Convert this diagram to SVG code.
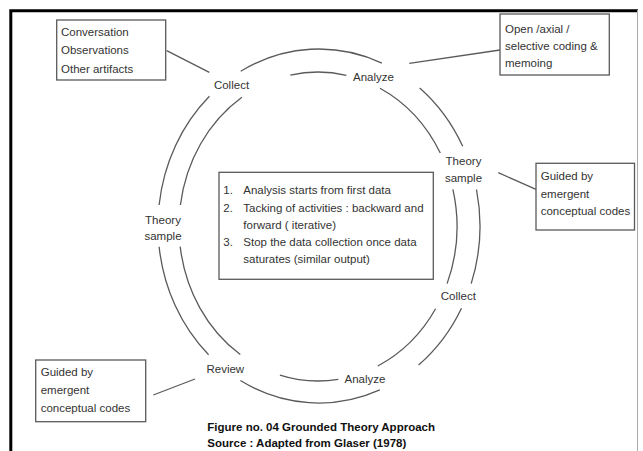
<svg xmlns="http://www.w3.org/2000/svg" width="643" height="451" viewBox="0 0 643 451">
<style>
.bg{fill:#fff}
.arc{fill:none;stroke:#5a5a5a;stroke-width:1.3}
.ln{fill:none;stroke:#5a5a5a;stroke-width:1.3}
.box{fill:#fff;stroke:#5a5a5a;stroke-width:1.3}
text{font-family:"Liberation Sans",Arial,sans-serif;font-size:11.5px;fill:#333}
.lbl{text-anchor:middle}
.cap{font-weight:bold;fill:#111}
</style>
<rect class="bg" x="0" y="0" width="643" height="451"/>
<path d="M10.8 451 V10.8 H638" fill="none" stroke="#000" stroke-width="3"/>
<path d="M637.5 10 V451" fill="none" stroke="#aaa" stroke-width="1"/>
<g id="connectors">
<path class="arc" d="M240.7 71.3 A161 177 0 0 1 381.9 63.1"/>
<path class="arc" d="M419.7 87.9 A161 177 0 0 1 462.7 146.2"/>
<path class="arc" d="M476.5 189.5 A161 177 0 0 1 471.2 283.6"/>
<path class="arc" d="M461.5 308.3 A161 177 0 0 1 418.6 365.1"/>
<path class="arc" d="M379.8 389.9 A161 177 0 0 1 240.4 380.5"/>
<path class="arc" d="M208.6 354.8 A161 177 0 0 1 159.1 246.7"/>
<path class="arc" d="M159.1 205.0 A161 177 0 0 1 209.4 96.3"/>
<path class="arc" d="M290.3 75.1 A139 154.5 0 0 1 346.4 75.3"/>
<path class="arc" d="M380.0 88.2 A139 154.5 0 0 1 440.3 153.0"/>
<path class="arc" d="M452.9 189.4 A139 154.5 0 0 1 447.1 283.6"/>
<path class="arc" d="M435.6 308.8 A139 154.5 0 0 1 377.8 366.0"/>
<path class="arc" d="M338.3 379.3 A139 154.5 0 0 1 279.9 375.1"/>
<path class="arc" d="M240.3 354.6 A139 154.5 0 0 1 180.2 246.7"/>
<path class="arc" d="M180.4 205.0 A139 154.5 0 0 1 241.9 97.2"/>
<path class="ln" d="M166.7 50.7 L209.3 72.3"/>
<path class="ln" d="M409.3 63.3 L500 50"/>
<path class="ln" d="M498.3 172.7 L536 189.3"/>
<path class="ln" d="M195 379 L153.3 395"/>
</g>
<g id="collect-top"><text class="lbl" x="231.5" y="89">Collect</text></g>
<g id="analyze-top"><text class="lbl" x="373.5" y="80.7">Analyze</text></g>
<g id="theory-right"><text class="lbl" x="463.5" y="165">Theory</text><text class="lbl" x="463.5" y="181.7">sample</text></g>
<g id="collect-right"><text class="lbl" x="458.3" y="300">Collect</text></g>
<g id="analyze-bottom"><text class="lbl" x="365" y="383.3">Analyze</text></g>
<g id="review"><text class="lbl" x="225.3" y="373.3">Review</text></g>
<g id="theory-left"><text class="lbl" x="163" y="224">Theory</text><text class="lbl" x="163" y="240.3">sample</text></g>
<g id="box-sources">
<rect class="box" x="56.7" y="20" width="109" height="60"/>
<text x="61" y="36">Conversation</text>
<text x="61" y="54.3">Observations</text>
<text x="61" y="72.7">Other artifacts</text>
</g>
<g id="box-coding">
<rect class="box" x="500" y="14" width="109.3" height="61"/>
<text x="505" y="33.3">Open /axial /</text>
<text x="505" y="50">selective coding &amp;</text>
<text x="505" y="66.7">memoing</text>
</g>
<g id="box-guided-right">
<rect class="box" x="536" y="163.3" width="98.5" height="66.7"/>
<text x="540.7" y="180">Guided by</text>
<text x="540.7" y="198.3">emergent</text>
<text x="540.7" y="215">conceptual codes</text>
</g>
<g id="box-guided-left">
<rect class="box" x="35.7" y="360" width="110" height="61.7"/>
<text x="40.7" y="376">Guided by</text>
<text x="40.7" y="394">emergent</text>
<text x="40.7" y="411.7">conceptual codes</text>
</g>
<g id="box-center">
<rect class="box" x="219" y="172.3" width="214.3" height="107"/>
<text x="223.3" y="194">1.</text><text x="243.3" y="194">Analysis starts from first data</text>
<text x="223.3" y="211.7">2.</text><text x="243.3" y="211.7">Tacking of activities : backward and</text>
<text x="243.3" y="229">forward ( iterative)</text>
<text x="223.3" y="246">3.</text><text x="243.3" y="246">Stop the data collection once data</text>
<text x="243.3" y="263.3">saturates (similar output)</text>
</g>
<g id="caption">
<text class="cap" x="207.3" y="430.7">Figure no. 04 Grounded Theory Approach</text>
<text class="cap" x="207.3" y="446.7">Source : Adapted from Glaser (1978)</text>
</g>
</svg>
